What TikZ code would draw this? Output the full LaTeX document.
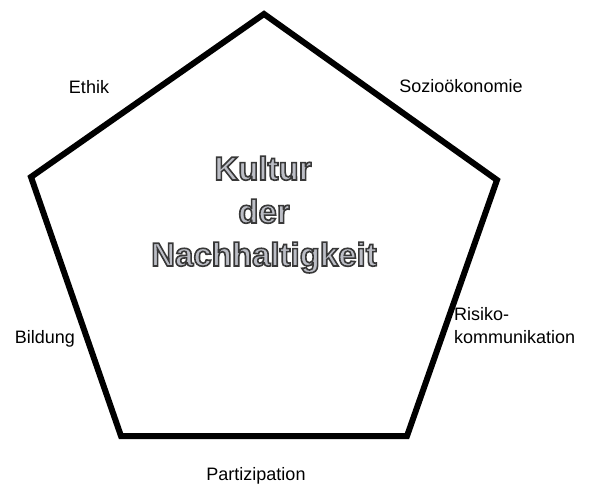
\documentclass[tikz,border=0pt]{standalone}
\usepackage{fontspec}
\setmainfont{Liberation Sans}
\usepackage{tikz}

\definecolor{kernfill}{RGB}{188,190,198}
% outlined letters: fill and stroke (render mode 2)
\newcommand{\hohltext}[1]{\textcolor{kernfill}{\special{pdf:literal direct 0.22 G 1.6 w 2 Tr}#1\special{pdf:literal direct 0 Tr}}}

\begin{document}
\begin{tikzpicture}[x=1pt, y=-1pt]
\tikzstyle{side} = [draw, line width=6pt, line join=miter]
\tikzstyle{aspect} = [inner sep=0pt, anchor=base, font=\fontsize{18}{23}\selectfont]
\tikzstyle{core} = [inner sep=0pt, anchor=base, font=\fontsize{33}{43}\selectfont\bfseries]

\useasboundingbox (0,0) rectangle (590,484);

% corners of the pentagon
\coordinate (top) at (264,14);
\coordinate (left) at (31,177);
\coordinate (right) at (497,180);
\coordinate (botleft) at (121,436);
\coordinate (botright) at (407,436);

\path [side] (top) -- (right) -- (botright) -- (botleft) -- (left) -- cycle;

% the five aspects
\node [aspect] (ethik) at (89,94) {Ethik};
\node [aspect] (sozio) at (461,93) {Sozioökonomie};
\node [aspect] (bildung) at (45,344) {Bildung};
\node [aspect, anchor=base west, align=left] (risiko) at (454,344) {Risiko-\\kommunikation};
\node [aspect] (partizipation) at (256,480) {Partizipation};

% title in the middle
\node [core] (kultur) at (263,180) {\hohltext{Kultur}};
\node [core] (der) at (264,223) {\hohltext{der}};
\node [core] (nachhalt) at (264,266) {\hohltext{Nachhaltigkeit}};
\end{tikzpicture}
\end{document}
